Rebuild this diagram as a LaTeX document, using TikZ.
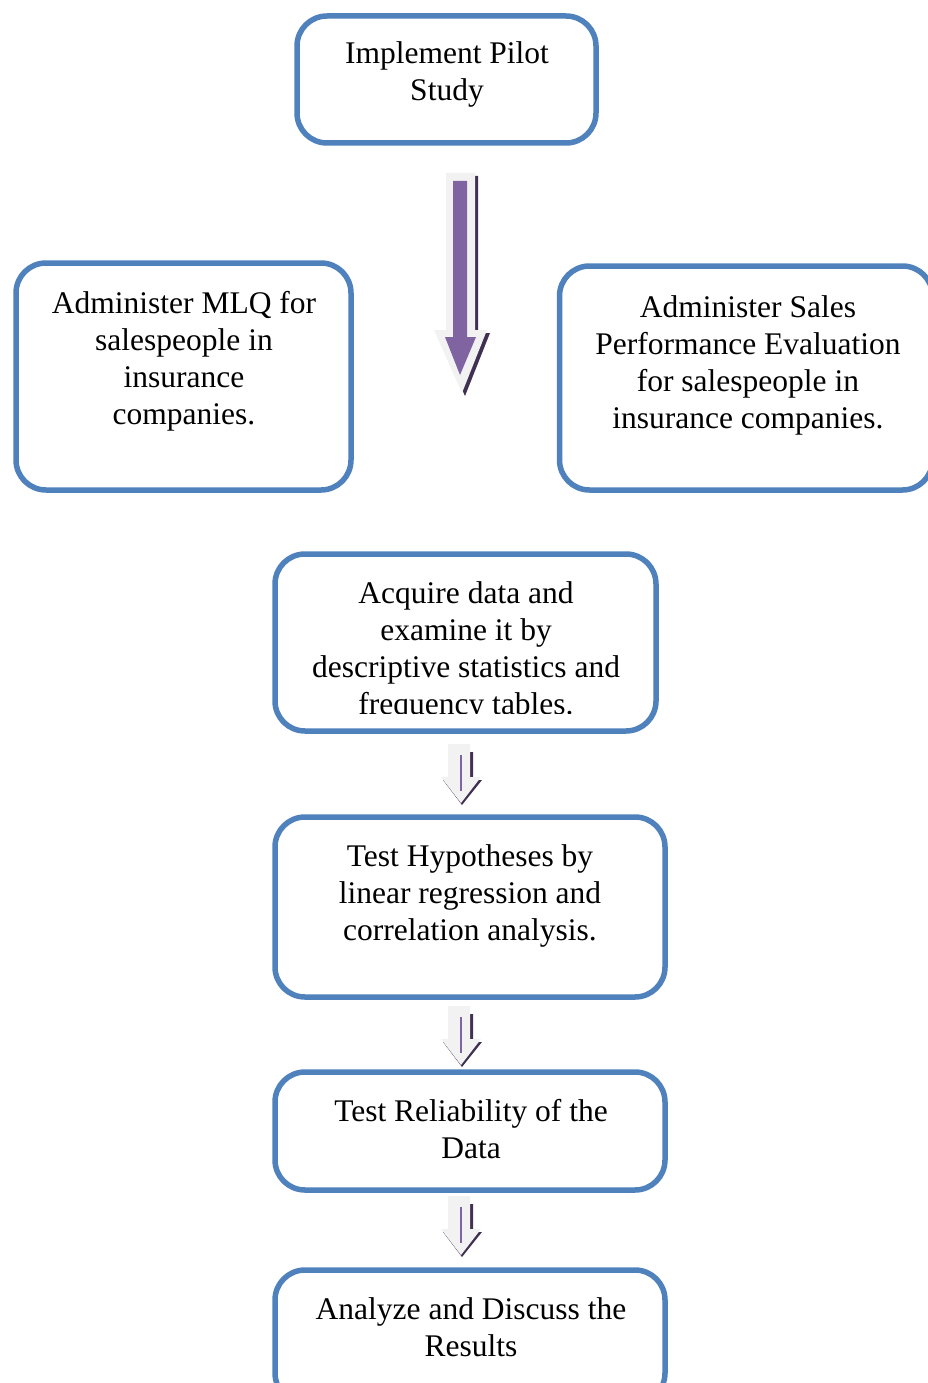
\documentclass[tikz,border=0pt]{standalone}
\usepackage{fontspec}
\setmainfont{Liberation Serif}
\definecolor{boxblue}{HTML}{4F81BD}
\definecolor{arrowpurple}{HTML}{8064A2}
\definecolor{arrowshadow}{HTML}{403152}
\definecolor{arrowrim}{HTML}{F2F2F2}
\begin{document}
\begin{tikzpicture}[x=1pt,y=-1pt,
  box/.style={draw=boxblue, line width=5.5pt, rounded corners=30pt, fill=white, inner sep=0pt},
  lbl/.style={font=\fontsize{31.5}{37}\selectfont, align=center, inner sep=0pt},
  rim/.style={fill=arrowrim},
  shade/.style={fill=arrowshadow},
  core/.style={fill=arrowpurple}]
\useasboundingbox (0,0) rectangle (928,1383);
\clip (0,0) rectangle (928,1383);
% boxes
\node[box, minimum width=299pt, minimum height=127pt] (pilot) at (446.5,79.5) {};
\node[box, minimum width=335pt, minimum height=227pt] (mlq) at (183.5,376.5) {};
\node[box, minimum width=373pt, minimum height=224pt] (sales) at (746,378) {};
\node[box, minimum width=381pt, minimum height=177pt] (acquire) at (465.5,642.5) {};
\node[box, minimum width=390pt, minimum height=180pt] (hypo) at (470,907) {};
\node[box, minimum width=390pt, minimum height=118pt] (reli) at (470,1131) {};
\node[box, minimum width=390pt, minimum height=133pt] (analyze) at (470,1336.5) {};
% labels
\node[lbl] (tpilot) at (447,74) {Implement Pilot\\Study};
\node[lbl] (tmlq) at (184,361) {Administer MLQ for\\salespeople in\\insurance\\companies.};
\node[lbl] (tsales) at (748,365) {Administer Sales\\Performance Evaluation\\for salespeople in\\insurance companies.};
\begin{scope}
\clip (270,560) rectangle (670,713);
\node[lbl] (tacquire) at (466,651) {Acquire data and\\examine it by\\descriptive statistics and\\frequency tables.};
\end{scope}
\node[lbl] (thypo) at (470,896) {Test Hypotheses by\\linear regression and\\correlation analysis.};
\node[lbl] (treli) at (471,1129) {Test Reliability of the\\Data};
\node[lbl] (tanalyze) at (471,1327) {Analyze and Discuss the\\Results};
% big arrow
\fill[shade] (449,176) -- (478,176) -- (478,333) -- (490,333) -- (465,396) -- (437,333) -- (449,333) -- cycle;
\fill[rim] (446,173) -- (475,173) -- (475,330) -- (487,330) -- (462,393) -- (434,330) -- (446,330) -- cycle;
\fill[core] (453,181) -- (467,181) -- (467,337) -- (476,337) -- (460,375) -- (445,337) -- (453,337) -- cycle;
% small arrows
\foreach \t/\n in {744/a1,1006/a2,1196/a3}{
  \fill[shade] (452,\t+8) -- (473,\t+8) -- (473,\t+36) -- (482,\t+36) -- (462,\t+61) -- (443,\t+36) -- (452,\t+36) -- cycle;
  \fill[rim] (448,\t) -- (470,\t) -- (470,\t+33) -- (481,\t+33) -- (461,\t+59) -- (441,\t+33) -- (448,\t+33) -- cycle;
  \fill[core] (459.8,\t+11) rectangle (462,\t+47);
}
\end{tikzpicture}
\end{document}
